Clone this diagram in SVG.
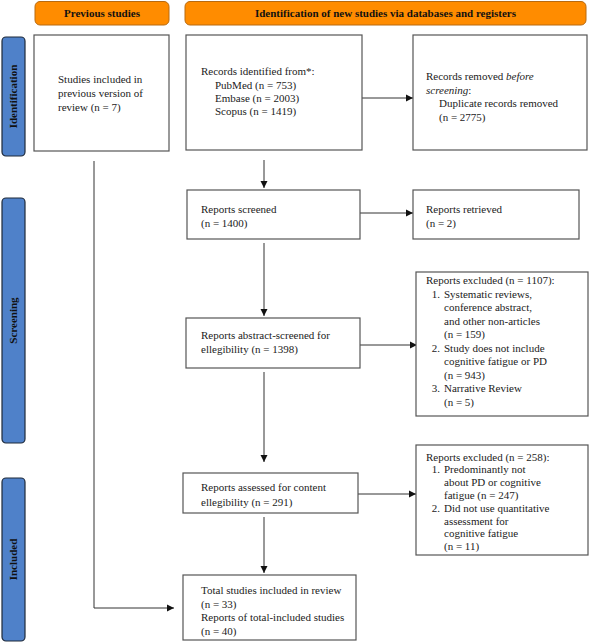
<svg xmlns="http://www.w3.org/2000/svg" width="591" height="642" viewBox="0 0 591 642">
<style>
text{font-family:"Liberation Serif","Times New Roman",serif;font-size:11px;fill:#222}
.hd rect{fill:#FF8C00;stroke:#B86A10;stroke-width:1}
.hd text{font-weight:bold;fill:#111;text-anchor:middle}
.sb rect{fill:#4F81C9;stroke:#1F2A3A;stroke-width:1.2}
.sb text{font-weight:bold;fill:#111;text-anchor:middle}
.bx rect{fill:#fff;stroke:#555;stroke-width:1.2}
.cn line,.cn polyline{stroke:#333;stroke-width:1;fill:none}
.it{font-style:italic}
.num{text-anchor:end}
</style>
<defs>
<marker id="ah" markerWidth="8" markerHeight="8" refX="7" refY="4" orient="auto" markerUnits="userSpaceOnUse">
<path d="M0,0.5 L7,4 L0,7.5 Z" fill="#111"/>
</marker>
</defs>
<rect width="591" height="642" fill="#fff"/>
<g id="hdr-prev" class="hd"><rect x="35" y="1.5" width="134" height="23.5" rx="5"/><text x="102" y="17">Previous studies</text></g>
<g id="hdr-new" class="hd"><rect x="185" y="1.5" width="401" height="23.5" rx="5"/><text x="385.5" y="17">Identification of new studies via databases and registers</text></g>
<g id="side-ident" class="sb"><rect x="2" y="37" width="23" height="119" rx="4"/><text transform="translate(17,96.5) rotate(-90)">Identification</text></g>
<g id="side-screen" class="sb"><rect x="2" y="198" width="23" height="245" rx="4"/><text transform="translate(17,320.5) rotate(-90)">Screening</text></g>
<g id="side-incl" class="sb"><rect x="2" y="478" width="23" height="163" rx="4"/><text transform="translate(17,559.5) rotate(-90)">Included</text></g>
<g class="cn" id="connectors">
<line x1="362" y1="98" x2="413" y2="98" marker-end="url(#ah)"/>
<line x1="264" y1="160" x2="264" y2="188" marker-end="url(#ah)"/>
<line x1="360" y1="213" x2="413" y2="213" marker-end="url(#ah)"/>
<line x1="264" y1="243" x2="264" y2="316" marker-end="url(#ah)"/>
<line x1="360" y1="345" x2="417" y2="345" marker-end="url(#ah)"/>
<line x1="264" y1="372" x2="264" y2="462" marker-end="url(#ah)"/>
<line x1="358" y1="494" x2="416" y2="494" marker-end="url(#ah)"/>
<line x1="264" y1="517" x2="264" y2="573" marker-end="url(#ah)"/>
<polyline points="94,161 94,608 174,608" marker-end="url(#ah)"/>
</g>
<g id="prev-studies" class="bx"><rect x="34" y="35" width="135" height="116"/>
<text x="58" y="83">Studies included in</text><text x="58" y="97">previous version of</text><text x="58" y="111">review (n = 7)</text></g>
<g id="records-identified" class="bx"><rect x="186" y="35" width="176" height="115"/>
<text x="201" y="75">Records identified from*:</text><text x="215" y="89">PubMed (n = 753)</text><text x="215" y="102">Embase (n = 2003)</text><text x="215" y="115">Scopus (n = 1419)</text></g>
<g id="records-removed" class="bx"><rect x="413" y="35" width="174" height="115"/>
<text x="426" y="80">Records removed <tspan class="it">before</tspan></text><text x="426" y="93.5" class="it">screening<tspan font-style="normal">:</tspan></text><text x="439" y="107">Duplicate records removed</text><text x="439" y="120.5">(n = 2775)</text></g>
<g id="reports-screened" class="bx"><rect x="187" y="190" width="173" height="49"/>
<text x="201" y="213">Reports screened</text><text x="201" y="226.5">(n = 1400)</text></g>
<g id="reports-retrieved" class="bx"><rect x="413" y="190" width="166" height="49"/>
<text x="426" y="213">Reports retrieved</text><text x="426" y="226.5">(n = 2)</text></g>
<g id="abstract-screened" class="bx"><rect x="186" y="318" width="174" height="50"/>
<text x="201" y="339">Reports abstract-screened for</text><text x="201" y="353">ellegibility (n = 1398)</text></g>
<g id="excluded-1" class="bx"><rect x="416" y="272" width="172" height="144"/>
<text x="426" y="284">Reports excluded (n = 1107):</text>
<text x="440" y="297.5" class="num">1.</text><text x="444" y="297.5">Systematic reviews,</text>
<text x="444" y="311">conference abstract,</text>
<text x="444" y="324.5">and other non-articles</text>
<text x="444" y="338">(n = 159)</text>
<text x="440" y="351.5" class="num">2.</text><text x="444" y="351.5">Study does not include</text>
<text x="444" y="365">cognitive fatigue or PD</text>
<text x="444" y="378.5">(n = 943)</text>
<text x="440" y="392" class="num">3.</text><text x="444" y="392">Narrative Review</text>
<text x="444" y="405.5">(n = 5)</text></g>
<g id="assessed" class="bx"><rect x="183" y="473" width="175" height="40"/>
<text x="201" y="491">Reports assessed for content</text><text x="201" y="505.5">ellegibility (n = 291)</text></g>
<g id="excluded-2" class="bx"><rect x="416" y="445" width="172" height="110"/>
<text x="426" y="460.5">Reports excluded (n = 258):</text>
<text x="440" y="473.3" class="num">1.</text><text x="444" y="473.3">Predominantly not</text>
<text x="444" y="486.1">about PD or cognitive</text>
<text x="444" y="498.9">fatigue (n = 247)</text>
<text x="440" y="511.7" class="num">2.</text><text x="444" y="511.7">Did not use quantitative</text>
<text x="444" y="524.5">assessment for</text>
<text x="444" y="537.3">cognitive fatigue</text>
<text x="444" y="550.1">(n = 11)</text></g>
<g id="total-included" class="bx"><rect x="183" y="575" width="173" height="65"/>
<text x="201" y="594">Total studies included in review</text><text x="201" y="607.5">(n = 33)</text><text x="201" y="621">Reports of total-included studies</text><text x="201" y="634.5">(n = 40)</text></g>
</svg>
